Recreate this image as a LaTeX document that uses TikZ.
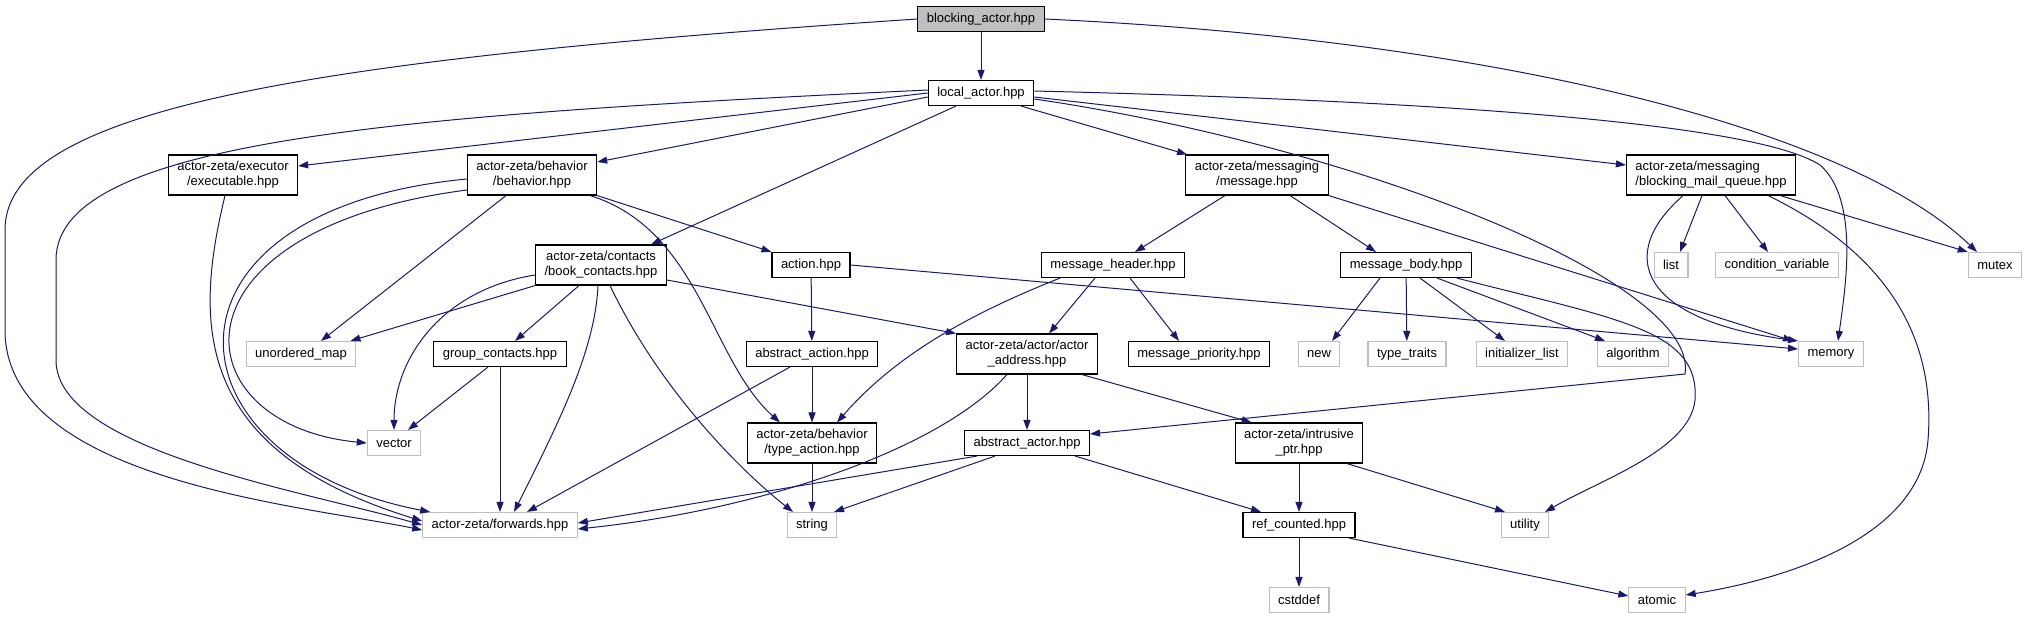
\documentclass[tikz,border=0pt]{standalone}
\usepackage{fontspec}
\setmainfont{Liberation Sans}
\usetikzlibrary{arrows.meta}
\definecolor{edgeblue}{HTML}{191970}
\definecolor{sysgray}{HTML}{BFBFBF}
\tikzset{
  hdr/.style={draw=black,line width=1.1pt,fill=white,inner xsep=9pt,inner ysep=2pt,minimum height=25pt,align=center,font=\fontsize{13}{15}\selectfont},
  twoline/.style={hdr,minimum height=40pt},
  sys/.style={hdr,draw=sysgray},
  root/.style={hdr,fill=sysgray},
  inc/.style={->,draw=edgeblue,line width=1pt}
}
\begin{document}
\begin{tikzpicture}[x=1pt,y=-1pt,>={Triangle[length=10pt,width=7pt]}]
\useasboundingbox (0,0) rectangle (2028,619);
\node[root](root) at (981,19) {blocking\_actor.hpp};
\node[hdr](local) at (981,93) {local\_actor.hpp};
\node[twoline](executable) at (233,175) {actor-zeta/executor\\/executable.hpp};
\node[twoline](behavior) at (532,175) {actor-zeta/behavior\\/behavior.hpp};
\node[twoline](message) at (1257,175) {actor-zeta/messaging\\/message.hpp};
\node[twoline,align=left](bmq) at (1711,175) {actor-zeta/messaging\\/blocking\_mail\_queue.hpp};
\node[twoline](book) at (601,265) {actor-zeta/contacts\\/book\_contacts.hpp};
\node[hdr](action) at (811,265) {action.hpp};
\node[hdr](header) at (1113,265) {message\_header.hpp};
\node[hdr](body) at (1406,265) {message\_body.hpp};
\node[sys](list) at (1671,265) {list};
\node[sys](condvar) at (1777,265) {condition\_variable};
\node[sys](mutex) at (1995,265) {mutex};
\node[sys](umap) at (301,354) {unordered\_map};
\node[hdr](group) at (500,354) {group\_contacts.hpp};
\node[hdr](abstractaction) at (812,354) {abstract\_action.hpp};
\node[twoline](address) at (1027,354) {actor-zeta/actor/actor\\\_address.hpp};
\node[hdr](priority) at (1199,354) {message\_priority.hpp};
\node[sys](new) at (1319,354) {new};
\node[sys](typetraits) at (1407,354) {type\_traits};
\node[sys](initlist) at (1522,354) {initializer\_list};
\node[sys](algorithm) at (1633,354) {algorithm};
\node[sys](memory) at (1831,354) {memory};
\node[sys](vector) at (394,443) {vector};
\node[twoline](typeaction) at (812,443) {actor-zeta/behavior\\/type\_action.hpp};
\node[hdr](abstractactor) at (1027,443) {abstract\_actor.hpp};
\node[twoline](intrusive) at (1299,443) {actor-zeta/intrusive\\\_ptr.hpp};
\node[sys](forwards) at (500,525) {actor-zeta/forwards.hpp};
\node[sys](string) at (812,525) {string};
\node[hdr](refcounted) at (1299,525) {ref\_counted.hpp};
\node[sys](utility) at (1525,525) {utility};
\node[sys](cstddef) at (1299,600) {cstddef};
\node[sys](atomic) at (1657,600) {atomic};

% blocking_actor.hpp
\draw[inc](root)--(local);
\draw[inc](root.west) .. controls (300,60) and (5,110) .. (5,230) -- (5,330) .. controls (5,480) and (300,505) .. ([yshift=-5pt]forwards.west);
\draw[inc](root.east) .. controls (1500,40) and (1850,130) .. ([xshift=-18pt]mutex.north);

% local_actor.hpp
\draw[inc](local.west)--([yshift=9pt]executable.east);
\draw[inc]([yshift=-4pt]local.west)--([yshift=13pt]behavior.east);
\draw[inc]([xshift=-25pt]local.south)--([xshift=50pt]book.north);
\draw[inc]([xshift=40pt]local.south)--([xshift=-70pt]message.north);
\draw[inc]([yshift=-4pt]local.east)--([yshift=10pt]bmq.west);
\draw[inc]([yshift=3pt]local.west) .. controls (400,115) and (56,140) .. (56,260) -- (56,360) .. controls (56,450) and (300,490) .. ([yshift=0pt]forwards.west);
\draw[inc]([yshift=2pt]local.east) .. controls (1400,100) and (1750,120) .. (1820,165) .. controls (1860,200) and (1845,290) .. ([xshift=7pt]memory.north);
\draw[inc]([yshift=-6pt]local.east) .. controls (1350,145) and (1700,280) .. (1685,374) -- ([yshift=9pt]abstractactor.east);

% executable.hpp, behavior.hpp
\draw[inc]([xshift=-8pt]executable.south) .. controls (195,320) and (190,450) .. ([yshift=4pt]forwards.west);
\draw[inc]([yshift=-4pt]behavior.west) .. controls (140,210) and (160,460) .. ([xshift=8pt]forwards.north west);
\draw[inc]([yshift=-15pt]behavior.west) .. controls (160,230) and (180,425) .. (vector.west);
\draw[inc]([xshift=-26pt]behavior.south)--([xshift=20pt]umap.north);
\draw[inc](behavior.south east)--(action.north west);
\draw[inc]([xshift=-7pt]behavior.south east) .. controls (700,230) and (710,360) .. ([xshift=-32pt]typeaction.north);

% book_contacts.hpp
\draw[inc](book.south west)--([xshift=-6pt]umap.north east);
\draw[inc]([yshift=-10pt]book.west) .. controls (440,290) and (394,360) .. (vector.north);
\draw[inc]([xshift=-22pt]book.south)--([xshift=15pt]group.north);
\draw[inc]([xshift=-3pt]book.south) .. controls (595,350) and (560,420) .. ([xshift=14pt]forwards.north);
\draw[inc]([xshift=9pt]book.south) .. controls (660,390) and (740,470) .. ([xshift=-19pt]string.north);
\draw[inc]([yshift=-15pt]book.east)--(address.north west);
\draw[inc]([xshift=-12pt]group.south)--([xshift=14pt]vector.north);
\draw[inc](group.south)--(forwards.north);

% action.hpp
\draw[inc](action)--(abstractaction);
\draw[inc](action.east)--([yshift=5pt]memory.west);
\draw[inc](abstractaction)--(typeaction);
\draw[inc]([xshift=-22pt]abstractaction.south)--([xshift=27pt]forwards.north);
\draw[inc](typeaction)--(string);

% message.hpp
\draw[inc]([xshift=-32pt]message.south)--([xshift=22pt]header.north);
\draw[inc]([xshift=33pt]message.south)--([xshift=-30pt]body.north);
\draw[inc](message.south east)--([xshift=-5pt]memory.north west);
\draw[inc]([xshift=-53pt]header.south) .. controls (980,310) and (900,350) .. ([xshift=25pt]typeaction.north);
\draw[inc]([xshift=-18pt]header.south)--([xshift=22pt]address.north);
\draw[inc]([xshift=17pt]header.south)--([xshift=-20pt]priority.north);

% actor_address.hpp, abstract_actor.hpp
\draw[inc](address)--(abstractactor);
\draw[inc]([xshift=-16pt]address.south east)--([xshift=17pt]intrusive.north west);
\draw[inc]([xshift=-20pt]address.south) .. controls (940,450) and (760,510) .. ([yshift=-4pt]forwards.east);
\draw[inc]([xshift=-50pt]abstractactor.south)--([yshift=2pt]forwards.east);
\draw[inc]([xshift=-32pt]abstractactor.south)--([xshift=22pt]string.north);
\draw[inc]([xshift=48pt]abstractactor.south)--([xshift=-38pt]refcounted.north);
\draw[inc](intrusive)--(refcounted);
\draw[inc]([xshift=48pt]intrusive.south)--([xshift=-20pt]utility.north);
\draw[inc](refcounted)--(cstddef);
\draw[inc]([xshift=50pt]refcounted.south)--([yshift=4pt]atomic.west);

% message_body.hpp
\draw[inc]([xshift=-26pt]body.south)--([xshift=13pt]new.north);
\draw[inc](body)--(typetraits);
\draw[inc]([xshift=14pt]body.south)--([xshift=-17pt]initlist.north);
\draw[inc]([xshift=31pt]body.south)--([xshift=-28pt]algorithm.north);
\draw[inc]([xshift=-15pt]body.south east) .. controls (1620,320) and (1700,330) .. (1695,400) .. controls (1690,450) and (1600,480) .. ([xshift=20pt]utility.north);

% blocking_mail_queue.hpp
\draw[inc]([xshift=-9pt]bmq.south)--([xshift=9pt]list.north);
\draw[inc]([xshift=14pt]bmq.south)--([xshift=-9pt]condvar.north);
\draw[inc]([xshift=-16pt]bmq.south east)--(mutex.north west);
\draw[inc]([xshift=-28pt]bmq.south) .. controls (1615,255) and (1640,320) .. (memory.north west);
\draw[inc]([xshift=-28pt]bmq.south east) .. controls (1900,260) and (1935,350) .. (1928,440) .. controls (1920,540) and (1780,580) .. ([yshift=5pt]atomic.east);
\end{tikzpicture}
\end{document}
